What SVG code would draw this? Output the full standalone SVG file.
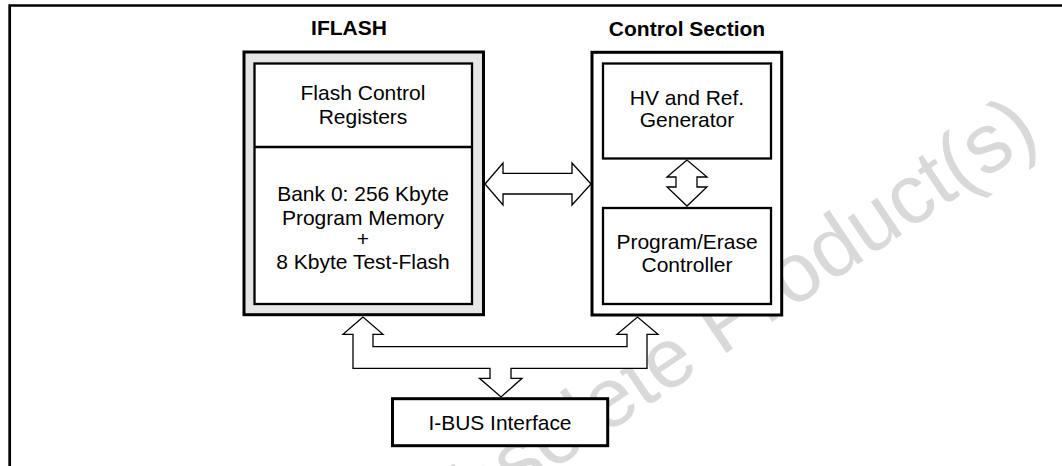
<svg xmlns="http://www.w3.org/2000/svg" width="1062" height="466" viewBox="0 0 1062 466">
<style>
  .t { font-family: "Liberation Sans", Arial, Helvetica, sans-serif; font-size: 21px; fill: #000; text-anchor: middle; }
  .b { font-weight: bold; }
  .outer { fill: #fff; stroke: #000; stroke-width: 3; }
  .inner { fill: #fff; stroke: #000; stroke-width: 2.3; }
  .arrow { fill: #fff; stroke: #000; stroke-width: 1.3; stroke-linejoin: miter; }
  .wm { font-family: "Liberation Sans", Arial, Helvetica, sans-serif; font-size: 84px; fill: #d9d9d9; }
</style>
<rect width="1062" height="466" fill="#fff"/>
<text class="wm" transform="translate(1042,140) rotate(-34)" text-anchor="end">Obsolete Product(s)</text>
<path d="M9.7 466 V5.5 H1062" fill="none" stroke="#000" stroke-width="2.7"/>

<g id="iflash">
  <text class="t b" x="349" y="35">IFLASH</text>
  <rect x="244" y="52" width="239.5" height="262.7" fill="#e5e5e5" stroke="#000" stroke-width="3"/>
  <rect class="inner" x="254.5" y="63.5" width="217.5" height="240.5"/>
  <line x1="254.5" y1="147" x2="472" y2="147" stroke="#000" stroke-width="2.3"/>
  <text class="t" x="363" y="100">Flash Control</text>
  <text class="t" x="363" y="123.5">Registers</text>
  <text class="t" x="363" y="201">Bank 0: 256 Kbyte</text>
  <text class="t" x="363" y="224.5">Program Memory</text>
  <text class="t" x="363" y="245.5">+</text>
  <text class="t" x="363" y="269">8 Kbyte Test-Flash</text>
</g>

<g id="control">
  <text class="t b" x="687" y="36">Control Section</text>
  <rect class="outer" x="592" y="52.3" width="189.7" height="262.7"/>
</g>

<g id="hv">
  <rect class="inner" x="603" y="63.5" width="168" height="95"/>
  <text class="t" x="687" y="105">HV and Ref.</text>
  <text class="t" x="687" y="127">Generator</text>
</g>

<g id="pe">
  <rect class="inner" x="603" y="208" width="168" height="96"/>
  <text class="t" x="687" y="248.5">Program/Erase</text>
  <text class="t" x="687" y="272">Controller</text>
</g>

<g id="ibus">
  <rect x="392.5" y="398.7" width="215.2" height="47" fill="#fff" stroke="#000" stroke-width="3"/>
  <text class="t" x="500" y="430" textLength="143" lengthAdjust="spacingAndGlyphs">I-BUS Interface</text>
</g>

<g id="connectors">
  <polygon class="arrow" points="485,184 503,163 503,173.3 572,173.3 572,163 591,184 572,205 572,194 503,194 503,205"/>
  <polygon class="arrow" points="687,160 667,177 676,177 676,187 667,187 687,206 707,187 697,187 697,177 707,177"/>
  <polygon class="arrow" points="363,317 343,334.3 353,334.3 353,368.3 490,368.3 490,378.3 479.5,378.3 501,397 522,378.3 511,378.3 511,368.3 647,368.3 647,334.3 658,334.3 637.5,317 617,334.3 627,334.3 627,346.7 373,346.7 373,334.3 383,334.3"/>
</g>
</svg>
